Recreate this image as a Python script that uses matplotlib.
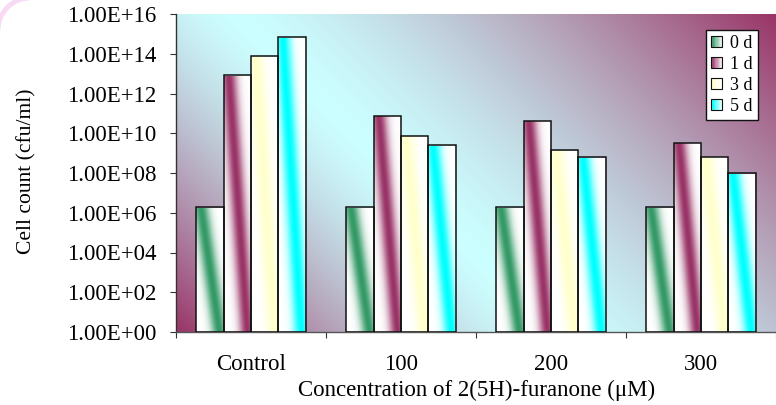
import numpy as np
import matplotlib
matplotlib.use("Agg")
import matplotlib.pyplot as plt
import matplotlib.transforms as mtransforms
from matplotlib.patches import Rectangle, Patch, Arc
from matplotlib.legend_handler import HandlerBase
from matplotlib.ticker import FuncFormatter, FixedLocator, NullFormatter

# ---- data ----
categories = ["Control", "100", "200", "300"]
series_labels = ["0 d", "1 d", "3 d", "5 d"]
day0 = [1.9e6, 1.9e6, 1.9e6, 1.9e6]
day1 = [8.5e12, 7.6e10, 4.3e10, 3.3e9]
day3 = [7.7e13, 7.3e9, 1.4e9, 6.6e8]
day5 = [6.7e14, 2.5e9, 6.2e8, 9.6e7]
series_values = [day0, day1, day3, day5]
series_colors = ["#339966", "#993366", "#FFFFCC", "#00FFFF"]
y_ticks = [10.0 ** k for k in range(0, 17, 2)]

W, H = 776, 405
plt.rcParams["font.family"] = ["Liberation Serif", "DejaVu Serif"]

fig = plt.figure(figsize=(W / 100, H / 100), dpi=100)
fig.patch.set_facecolor("white")

# faint decorative arc in the top-left corner of the chart area
fig.patches.append(Arc((30, H - 30), 64, 64, theta1=90, theta2=180,
                       transform=None, color="#F8DAF4", linewidth=3.5, zorder=-2))

# plot area in pixels
px0, px1, py_top, py_bot = 176, 776, 14, 332
ax = fig.add_axes([px0 / W, (H - py_bot) / H, (px1 - px0) / W, (py_bot - py_top) / H])
ax.patch.set_visible(False)


def rgb(h):
    return np.array(matplotlib.colors.to_rgb(h))


# ---- plot-area background: diagonal maroon -> pale cyan -> maroon ----
maroon = rgb("#993366")
pale = rgb("#CCFFFF")
xs = np.arange(px0, px1)
ys = np.arange(py_top, py_bot)
XX, YY = np.meshgrid(xs, ys)
s = XX - YY
c = 220.0
lo, hi = px0 - py_bot, px1 - py_top
f = np.where(s < c, (c - s) / (c - lo), (s - c) / (hi - c))
f = np.clip(f, 0, 1) ** 1.4
bg = pale[None, None, :] * (1 - f[..., None]) + maroon[None, None, :] * f[..., None]
fig.figimage(bg, xo=px0, yo=H - py_bot, origin="upper", zorder=-1)

# ---- bars ----
n_series = len(series_values)
bar_w = 1 / 5.5
x = np.arange(len(categories))
offsets = (np.arange(n_series) - (n_series - 1) / 2) * bar_w

ax.set_yscale("log")
ax.set_xlim(-0.5, len(categories) - 0.5)
ax.set_ylim(1, 1e16)

blend = mtransforms.blended_transform_factory(ax.transData, ax.transAxes)


def bar_gradient(color, ny=200, nx=40):
    u = np.linspace(0, 1, nx)[None, :]
    v = np.linspace(0, 1, ny)[:, None]
    center = 0.15 + 0.7 * v
    wgt = np.exp(-((u - center) / 0.30) ** 2)
    col = rgb(color)
    img = np.ones((ny, nx, 3)) * (1 - wgt[..., None]) + col[None, None, :] * wgt[..., None]
    return img


for vals, color, lab, off in zip(series_values, series_colors, series_labels, offsets):
    bars = ax.bar(x + off, vals, width=bar_w, bottom=1, facecolor="none",
                  edgecolor="#111111", linewidth=1.1, zorder=3, label=lab)
    for rect, val in zip(bars.patches, vals):
        x0 = rect.get_x()
        x1 = x0 + rect.get_width()
        top_frac = ax.transAxes.inverted().transform(ax.transData.transform((x0, val)))[1]
        img = bar_gradient(color)
        im = ax.imshow(img, extent=[x0, x1, 0, top_frac], transform=blend,
                       aspect="auto", interpolation="bilinear", origin="upper", zorder=2)
        im.set_clip_path(rect)

ax.set_aspect("auto")
ax.set_xlim(-0.5, len(categories) - 0.5)
ax.set_ylim(1, 1e16)

# ---- axes styling ----
for side in ("top", "right"):
    ax.spines[side].set_visible(False)
ax.spines["left"].set_color("#333333")
ax.spines["bottom"].set_color("#555555")
ax.spines["left"].set_linewidth(1.0)
ax.spines["bottom"].set_linewidth(1.0)

ax.yaxis.set_major_locator(FixedLocator(y_ticks))
ax.yaxis.set_minor_locator(FixedLocator([]))
ax.yaxis.set_major_formatter(FuncFormatter(lambda v, pos: f"{v:.2E}"))
ax.tick_params(axis="y", which="major", direction="out", length=4.3, width=0.8,
               color="#333333", pad=10, labelsize=16.5)

ax.xaxis.set_major_locator(FixedLocator(np.arange(len(categories) + 1) - 0.5))
ax.xaxis.set_major_formatter(NullFormatter())
ax.xaxis.set_minor_locator(FixedLocator(x))
ax.set_xticks(x, categories, minor=True)
ax.tick_params(axis="x", which="major", direction="out", length=4.3, width=0.8, color="#333333")
ax.tick_params(axis="x", which="minor", length=0, pad=16, labelsize=16.5)

fig.text(27 / W, 1 - 171 / H, "Cell count (cfu/ml)", rotation=90, ha="center",
         va="center", fontsize=15.5)
fig.text(477 / W, 1 - 396 / H, "Concentration of 2(5H)-furanone (\u03bcM)", ha="center",
         va="baseline", fontsize=16.5)


# ---- legend with gradient swatches ----
class GradientSwatch(HandlerBase):
    def create_artists(self, legend, orig_handle, xdescent, ydescent, width, height,
                       fontsize, trans):
        col = rgb(orig_handle.get_facecolor())
        side = min(width, height)
        x0 = -xdescent + (width - side) / 2
        y0 = -ydescent + (height - side) / 2
        n = 8
        arts = []
        for i in range(n):
            t = i / (n - 1)
            cc = col * (1 - 0.85 * t) + np.ones(3) * 0.85 * t
            r = Rectangle((x0 + i * side / n, y0), side / n, side, facecolor=cc,
                          edgecolor="none", transform=trans)
            arts.append(r)
        arts.append(Rectangle((x0, y0), side, side, facecolor="none", edgecolor="#111111",
                              linewidth=0.8, transform=trans))
        return arts


handles = [Patch(facecolor=cc, label=lab) for cc, lab in zip(series_colors, series_labels)]
leg = fig.legend(handles=handles, loc="upper right",
                 bbox_to_anchor=(767 / W, 1 - 20.5 / H), bbox_transform=fig.transFigure,
                 fontsize=13, frameon=True, fancybox=False, framealpha=1,
                 edgecolor="#111111", borderpad=0.3, labelspacing=0.22,
                 handlelength=0.6, handleheight=0.6, handletextpad=0.45,
                 handler_map={Patch: GradientSwatch()})
leg.get_frame().set_linewidth(1.0)

fig.savefig("out.png", dpi=100)
